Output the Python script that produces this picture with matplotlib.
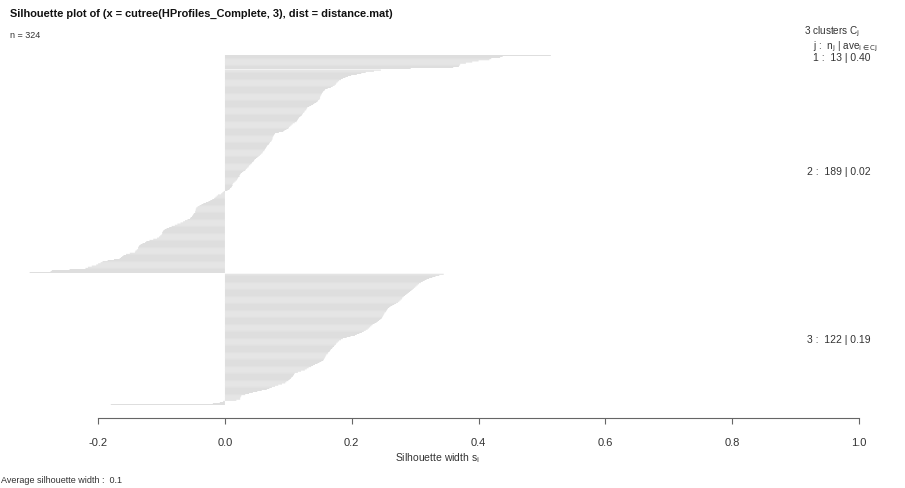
import numpy as np
import matplotlib.pyplot as plt

plt.rcParams['font.family'] = ['Liberation Sans Narrow', 'Liberation Sans', 'DejaVu Sans']
plt.rcParams['mathtext.fontset'] = 'custom'
plt.rcParams['mathtext.rm'] = 'Liberation Sans Narrow'
plt.rcParams['mathtext.it'] = 'Liberation Sans Narrow'

# silhouette widths per cluster, sorted from top (largest) to bottom
cluster_ids = [1, 2, 3]
cluster_avg = [0.40, 0.02, 0.19]
avg_width = 0.1

sil_c1 = [0.514, 0.438, 0.434, 0.42, 0.417, 0.40, 0.39, 0.38, 0.371, 0.370, 0.369, 0.36, 0.293]

sil_c2 = [
    0.246, 0.235, 0.222, 0.215, 0.208, 0.199, 0.194, 0.190, 0.186, 0.183,
    0.180, 0.178, 0.176, 0.175, 0.173, 0.170, 0.167, 0.162, 0.158, 0.157,
    0.155, 0.154, 0.153, 0.152, 0.151, 0.150, 0.150, 0.149, 0.147, 0.146,
    0.144, 0.141, 0.139, 0.136, 0.133, 0.130, 0.129, 0.128, 0.126, 0.125,
    0.123, 0.122, 0.121, 0.119, 0.117, 0.116, 0.115, 0.114, 0.113, 0.110,
    0.107, 0.105, 0.103, 0.101, 0.100, 0.097, 0.094, 0.092, 0.085, 0.079,
    0.078, 0.077, 0.076, 0.075, 0.075, 0.074, 0.073, 0.071, 0.070, 0.069,
    0.067, 0.066, 0.065, 0.064, 0.063, 0.062, 0.060, 0.059, 0.057, 0.055,
    0.053, 0.051, 0.049, 0.047, 0.046, 0.045, 0.043, 0.042, 0.040, 0.038,
    0.037, 0.035, 0.033, 0.032, 0.029, 0.027, 0.025, 0.024, 0.023, 0.023,
    0.021, 0.020, 0.019, 0.017, 0.015, 0.013, 0.012, 0.012, 0.011, 0.010,
    0.008, 0.007, 0.004, -0.002, -0.004, -0.006, -0.011, -0.013, -0.015, -0.017,
    -0.020, -0.023, -0.026, -0.030, -0.034, -0.037, -0.040, -0.043, -0.045, -0.046,
    -0.046, -0.047, -0.047, -0.049, -0.050, -0.051, -0.052, -0.054, -0.055, -0.059,
    -0.063, -0.066, -0.070, -0.075, -0.079, -0.084, -0.088, -0.092, -0.095, -0.097,
    -0.098, -0.099, -0.099, -0.100, -0.102, -0.104, -0.107, -0.113, -0.119, -0.124,
    -0.126, -0.130, -0.133, -0.135, -0.136, -0.137, -0.137, -0.139, -0.141, -0.142,
    -0.150, -0.156, -0.160, -0.162, -0.164, -0.166, -0.175, -0.185, -0.193, -0.196,
    -0.200, -0.203, -0.210, -0.216, -0.220, -0.245, -0.273, -0.275, -0.308,
]

sil_c3 = [
    0.345, 0.338, 0.332, 0.327, 0.322, 0.318, 0.315, 0.312, 0.309, 0.306,
    0.304, 0.302, 0.300, 0.298, 0.296, 0.294, 0.292, 0.290, 0.288, 0.286,
    0.284, 0.282, 0.280, 0.279, 0.277, 0.275, 0.273, 0.270, 0.267, 0.264,
    0.261, 0.259, 0.257, 0.256, 0.255, 0.254, 0.252, 0.251, 0.250, 0.249,
    0.248, 0.247, 0.245, 0.243, 0.241, 0.239, 0.236, 0.233, 0.231, 0.229,
    0.227, 0.225, 0.222, 0.219, 0.216, 0.212, 0.208, 0.205, 0.198, 0.192,
    0.186, 0.183, 0.180, 0.178, 0.176, 0.175, 0.173, 0.172, 0.170, 0.169,
    0.167, 0.166, 0.165, 0.163, 0.162, 0.160, 0.159, 0.158, 0.157, 0.156,
    0.155, 0.152, 0.149, 0.146, 0.142, 0.139, 0.136, 0.132, 0.129, 0.126,
    0.120, 0.115, 0.110, 0.109, 0.108, 0.107, 0.105, 0.104, 0.102, 0.100,
    0.097, 0.095, 0.090, 0.084, 0.079, 0.074, 0.070, 0.066, 0.058, 0.051,
    0.044, 0.038, 0.032, 0.026, 0.025, 0.024, 0.024, 0.018, -0.003, -0.008,
    -0.019, -0.180,
]

W, H = 905, 489
fig = plt.figure(figsize=(W / 100, H / 100), dpi=100)
ax = fig.add_axes([10 / W, 70 / H, 875 / W, 377 / H])

clusters = [sil_c1, sil_c2, sil_c3]
n_total = sum(len(c) for c in clusters)
gap = 0.5

# stack bars from the bottom: last cluster at the bottom, smallest width lowest
pos = 0.0
centers = {}
for cid, vals in zip(cluster_ids[::-1], clusters[::-1]):
    vals = vals[::-1]
    ys = pos + 0.5 + np.arange(len(vals))
    bars = ax.barh(ys, vals, height=0.55, color='#c8c8c8', linewidth=0)
    for b in bars:
        b.set_snap(False)
    centers[cid] = ys.mean()
    pos += len(vals) + gap

for cid, vals, avg in zip(cluster_ids, clusters, cluster_avg):
    y = centers[cid] + (5 if cid == 1 else 0)
    ax.text(1.018, y, f"{cid} :  {len(vals)} | {avg:.2f}",
            ha='right', va='center', fontsize=7.5, color='#333333')

ax.set_xlim(-0.339, 1.041)
ax.set_ylim(-12.07, 338.0)
for s in ['left', 'top', 'right']:
    ax.spines[s].set_visible(False)
ax.spines['bottom'].set_bounds(-0.2, 1.0)
ax.spines['bottom'].set_color('#666666')
ax.set_yticks([])
ax.set_xticks([-0.2, 0.0, 0.2, 0.4, 0.6, 0.8, 1.0])
ax.set_xticklabels(['-0.2', '0.0', '0.2', '0.4', '0.6', '0.8', '1.0'])
ax.tick_params(axis='x', colors='#666666', labelcolor='#333333', length=4,
               labelsize=8, pad=10)
ax.set_xlabel('Silhouette width s$_\\mathrm{i}$', fontsize=7.5, color='#333333')
ax.xaxis.set_label_coords((437 - 10) / 875, -0.085)

fig.text(10 / W, 1 - 14 / H,
         'Silhouette plot of (x = cutree(HProfiles_Complete, 3), dist = distance.mat)',
         fontsize=7.9, weight='bold', va='center', color='#111111')
fig.text(10 / W, 1 - 35 / H, f'n = {n_total}', fontsize=6.5, va='center', color='#333333')
fig.text(860 / W, 1 - 32 / H, f'{len(clusters)} clusters C$_\\mathrm{{j}}$',
         fontsize=7.2, ha='right', va='center', color='#333333')
fig.text(878 / W, 1 - 47 / H, 'j :  n$_\\mathrm{j}$ | ave$_{\\mathrm{i} \\in \\mathrm{Cj}}$',
         fontsize=7.2, ha='right', va='center', color='#333333')
fig.text(1 / W, 1 - 481 / H, f'Average silhouette width :  {avg_width}',
         fontsize=6.5, va='center', color='#333333')

fig.savefig('out.png', dpi=100)
